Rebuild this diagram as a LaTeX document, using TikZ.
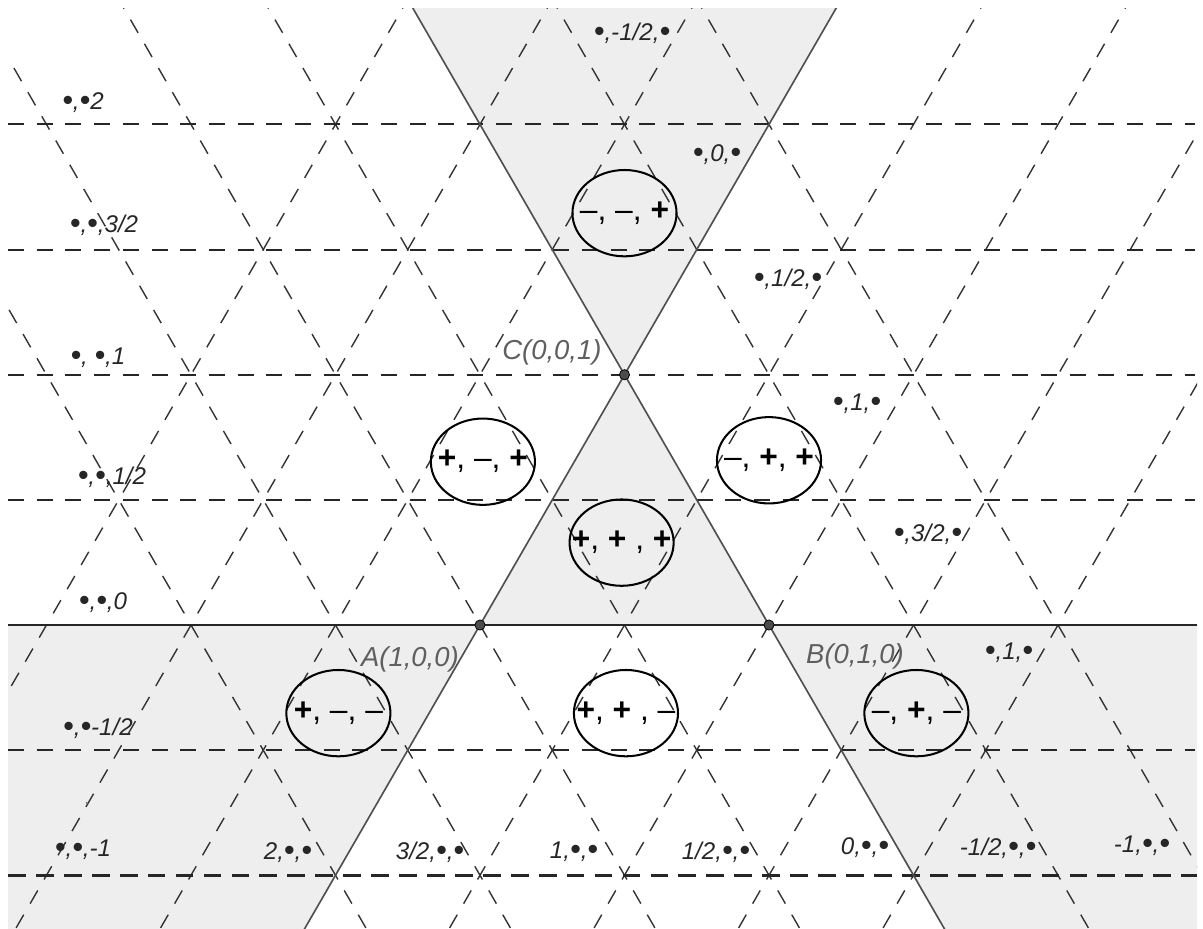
\documentclass[tikz,border=0pt]{standalone}
\usepackage{fontspec}
\setmainfont{Liberation Sans}
\usetikzlibrary{shapes.geometric}
\definecolor{conegray}{RGB}{238,238,238}
\definecolor{edgegray}{RGB}{80,80,80}
\definecolor{labelgray}{RGB}{95,95,95}
\newcommand{\signtxt}[1]{\makebox[0pt]{#1}}
\newcommand{\bul}{{\fontsize{12}{12}\selectfont\raisebox{-0.03em}{•}}}

\begin{document}
\begin{tikzpicture}[x=2cm,y=2cm,
    grid line/.style={dash pattern=on 6pt off 5pt,line width=0.55pt,black!80},
    level line/.style={dash pattern=on 6.3pt off 5pt,line width=0.8pt,black!85},
    border line/.style={line width=0.65pt,edgegray},
    sign node/.style={ellipse,draw,line width=0.8pt,minimum width=41pt,minimum height=34pt,inner sep=0pt,font=\fontsize{12.5}{14}\selectfont},
    coord label/.style={inner sep=0pt,text=black!85,font=\fontsize{9.5}{11}\selectfont\itshape},
    vertex label/.style={inner sep=0pt,text=labelgray,font=\fontsize{10.8}{13}\selectfont\itshape},
    vertex/.style={circle,draw=black,fill=black!70,line width=0.3pt,inner sep=0pt,minimum size=4pt}]

    \useasboundingbox (-3.3218,-2.0969) rectangle (5.0035,4.3253);

    \begin{scope}
        \clip (-3.266,-2.2) rectangle (4.962,4.263);
        % shaded cones
        \fill[conegray] (0,0) -- (2,0) -- (1,1.732) -- cycle;
        \fill[conegray] (1,1.732) -- (3,5.196) -- (-1,5.196) -- cycle;
        \fill[conegray] (0,0) -- (-5,0) -- (-5,-3.031) -- (-1.75,-3.031) -- cycle;
        \fill[conegray] (2,0) -- (7,0) -- (7,-3.031) -- (3.75,-3.031) -- cycle;

        % lines parallel to AC
        \draw[grid line] (-4.5,-2.598) -- (0,5.196);
        \draw[grid line] (-3.5,-2.598) -- (1,5.196);
        \draw[grid line] (-2.5,-2.598) -- (2,5.196);
        \draw[grid line] (-0.5,-2.598) -- (4,5.196);
        \draw[grid line] (0.5,-2.598) -- (5,5.196);
        \draw[grid line] (1.5,-2.598) -- (6,5.196);
        \draw[grid line] (2.5,-2.598) -- (7,5.196);
        % lines parallel to BC
        \draw[grid line] (-0.5,-2.598) -- (-5,5.196);
        \draw[grid line] (0.5,-2.598) -- (-4,5.196);
        \draw[grid line] (1.5,-2.598) -- (-3,5.196);
        \draw[grid line] (2.5,-2.598) -- (-2,5.196);
        \draw[grid line] (4.5,-2.598) -- (0,5.196);
        \draw[grid line] (5.5,-2.598) -- (1,5.196);
        % lines parallel to AB
        \draw[level line,line width=1.1pt,dash pattern=on 7pt off 4pt] (-3.266,-1.732) -- (4.962,-1.732);
        \draw[level line] (-3.266,-0.866) -- (4.948,-0.866);
        \draw[level line] (-3.266,0.866) -- (4.948,0.866);
        \draw[level line] (-3.266,1.732) -- (4.948,1.732);
        \draw[level line] (-3.266,2.598) -- (4.948,2.598);
        \draw[level line] (-3.266,3.464) -- (4.948,3.464);

        % sides of the triangle, extended
        \draw[border line] (-1.75,-3.031) -- (3,5.196);
        \draw[border line] (3.75,-3.031) -- (-1,5.196);
        \draw[border line,line width=0.8pt,black!85] (-3.266,0) -- (4.962,0);

        \fill[black!55] (-2.72,-1.232) circle (0.5pt);
    \end{scope}

    \node[sign node] (mmp) at (1,2.85) {\signtxt{–, –, \textbf{+}}};
    \node[sign node] (pmp) at (0.02,1.13) {\signtxt{\textbf{+}, –, \textbf{+}}};
    \node[sign node] (mpp) at (2.0,1.14) {\signtxt{–, \textbf{+}, \textbf{+}}};
    \node[sign node] (ppp) at (0.98,0.57) {\signtxt{\textbf{+}, \textbf{+} , \textbf{+}}};
    \node[sign node] (pmm) at (-0.98,-0.61) {\signtxt{\textbf{+}, –, –}};
    \node[sign node] (ppm) at (1.01,-0.61) {\signtxt{\textbf{+}, \textbf{+} , –}};
    \node[sign node] (mpm) at (3.02,-0.61) {\signtxt{–, \textbf{+}, –}};

    \node[vertex] (A) at (0,0) {};
    \node[vertex] (B) at (2,0) {};
    \node[vertex] (C) at (1,1.732) {};
    \node[vertex label] (Alab) at (-0.485,-0.24) {A(1,0,0)};
    \node[vertex label] (Blab) at (2.595,-0.22) {B(0,1,0)};
    \node[vertex label] (Clab) at (0.498,1.889) {C(0,0,1)};

    \node[coord label] (y1) at (1.052,4.097) {\bul,-1/2,\bul};
    \node[coord label] (y2) at (1.640,3.253) {\bul,0,\bul};
    \node[coord label] (y3) at (2.131,2.394) {\bul,1/2,\bul};
    \node[coord label] (y4) at (2.609,1.529) {\bul,1,\bul};
    \node[coord label] (y5) at (3.100,0.630) {\bul,3/2,\bul};
    \node[coord label] (y6) at (3.661,-0.194) {\bul,1,\bul};

    \node[coord label] (z1) at (-2.747,3.612) {\bul,\bul2};
    \node[coord label] (z2) at (-2.602,2.768) {\bul,\bul,3/2};
    \node[coord label] (z3) at (-2.644,1.848) {\bul, \bul,1};
    \node[coord label] (z4) at (-2.547,1.024) {\bul,\bul,1/2};
    \node[coord label] (z5) at (-2.609,0.152) {\bul,\bul,0};
    \node[coord label] (z6) at (-2.644,-0.713) {\bul,\bul-1/2};
    \node[coord label] (z7) at (-2.747,-1.557) {\bul,\bul,-1};

    \node[coord label] (x1) at (-1.329,-1.578) {2,\bul,\bul};
    \node[coord label] (x2) at (-0.346,-1.571) {3/2,\bul,\bul};
    \node[coord label] (x3) at (0.651,-1.571) {1,\bul,\bul};
    \node[coord label] (x4) at (1.633,-1.571) {1/2,\bul,\bul};
    \node[coord label] (x5) at (2.664,-1.543) {0,\bul,\bul};
    \node[coord label] (x6) at (3.585,-1.543) {-1/2,\bul,\bul};
    \node[coord label] (x7) at (4.581,-1.529) {-1,\bul,\bul};
\end{tikzpicture}
\end{document}
